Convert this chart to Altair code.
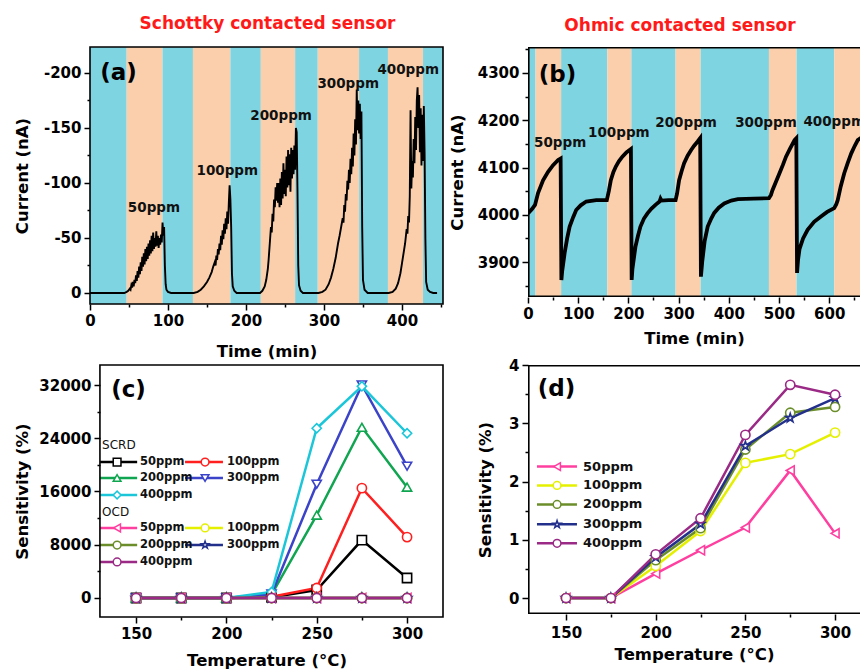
import altair as alt
import pandas as pd

FONT = "DejaVu Sans"

# ---------------- panel (a): Schottky contacted sensor ----------------
a_time = [0, 44, 47, 49, 51, 52, 53, 54, 55, 56, 57, 58, 59, 60, 61, 62, 63, 64, 65, 66, 67, 68, 69, 70,
          71, 72, 73, 74, 75, 76, 77, 78, 79, 80, 81, 82, 83, 84, 85, 86, 87, 88, 89, 90, 91, 92, 93, 94,
          95, 96, 97, 98, 100, 104,
          133, 138, 142, 146, 150, 153, 156, 158, 160, 161, 162, 163, 164, 165, 166, 167, 168, 169, 170,
          171, 172, 173, 174, 175, 176, 177, 178, 179, 180, 181, 182, 183, 185, 188,
          218, 221, 224, 226, 228, 229, 230, 231, 232, 233, 234, 235, 236, 237, 238, 239, 240, 241, 242,
          243, 244, 245, 246, 247, 248, 249, 250, 251, 252, 253, 254, 255, 256, 257, 258, 259, 260, 261,
          262, 263, 264, 265, 266, 267, 268, 270, 273,
          293, 298, 302, 306, 309, 312, 315, 318, 320, 322, 324, 325, 326, 327, 328, 329, 330, 331, 332,
          333, 334, 335, 336, 337, 338, 339, 340, 341, 342, 343, 344, 345, 346, 347, 348, 349, 350, 352, 356,
          383, 388, 392, 395, 398, 400, 402, 404, 406, 407, 408, 409, 410, 411, 412, 413, 414, 415, 416,
          417, 418, 419, 420, 421, 422, 423, 424, 425, 426, 427, 428, 429, 430, 431, 433, 436, 440, 445]
a_current = [0, 0, -1, -2, -4, -3, -7, -5, -10, -6, -12, -9, -16, -11, -20, -14, -24, -17, -28, -20, -33, -24, -36, -26,
             -40, -29, -42, -31, -45, -34, -48, -36, -52, -38, -55, -40, -50, -42, -56, -43, -52, -41, -50, -44, -53, -46, -64, -52,
             -60, -25, -8, -3, -1, 0,
             0, -1, -3, -6, -10, -14, -19, -24, -28, -25, -34, -30, -40, -35, -45, -39, -52, -44, -57,
             -49, -63, -54, -68, -58, -74, -63, -82, -98, -85, -60, -18, -6, -2, 0,
             0, -2, -6, -12, -22, -30, -40, -50, -60, -55, -72, -65, -85, -78, -96, -84, -100, -82, -100,
             -78, -104, -80, -110, -86, -118, -90, -112, -88, -124, -96, -130, -98, -126, -92, -132, -104, -130, -108,
             -134, -112, -150, -146, -95, -25, -7, -2, 0,
             0, -1, -3, -8, -14, -22, -32, -45, -52, -60, -68, -64, -80, -74, -90, -84, -102, -94, -112,
             -100, -122, -108, -132, -115, -145, -125, -158, -135, -185, -148, -175, -145, -172, -140, -165, -60, -12, -3, 0,
             0, -1, -4, -9, -18, -27, -36, -45, -58, -54, -70, -64, -88, -166, -95, -120, -105, -140, -118,
             -160, -130, -175, -187, -150, -180, -128, -168, -116, -162, -120, -170, -128, -50, -10, -3, -1, 0, 0]
a_band_start = [0, 47, 93, 132, 180, 219, 263, 292, 345, 382, 427]
a_band_end = [47, 93, 132, 180, 219, 263, 292, 345, 382, 427, 452.6]
a_band_gas = [0, 1, 0, 1, 0, 1, 0, 1, 0, 1, 0]
a_conc_text = ["50ppm", "100ppm", "200ppm", "300ppm", "400ppm"]
a_conc_time = [82, 176, 245, 331, 408]
a_conc_current = [-77, -111, -161, -190, -203]
a_title = ["Schottky contacted sensor"]
a_title_time = [227.6]
a_title_current = [-240]

# ---------------- panel (b): Ohmic contacted sensor ----------------
b_time = [0, 8, 14, 20, 30, 40, 50, 60, 65, 66.5, 68, 73, 78, 83, 90, 96, 105, 116, 136, 157,
          161, 165, 170, 175, 181, 188, 196, 205, 206.5, 208, 214, 219, 224, 231, 238, 246, 254, 262, 264, 266, 280, 294,
          297, 301, 306, 311, 318, 325, 331, 338, 343, 344.5, 347, 352, 358, 365, 371, 380, 391, 405, 418, 450, 480,
          484, 487, 494, 501, 508, 514, 522, 531, 534.5, 536, 538, 541, 548, 557, 570, 583, 596, 610,
          614, 617, 623, 630, 637, 644, 651, 657, 666]
b_current = [4003, 4012, 4021, 4046, 4073, 4091, 4105, 4116, 4119, 3862, 3880, 3919, 3950, 3975, 3995, 4010, 4020, 4028, 4031, 4031,
             4050, 4073, 4090, 4102, 4113, 4123, 4132, 4139, 3862, 3885, 3932, 3955, 3975, 3992, 4003, 4013, 4021, 4028, 4034, 4030, 4031, 4031,
             4045, 4073, 4092, 4109, 4125, 4137, 4146, 4155, 4162, 3869, 3900, 3945, 3975, 3992, 4004, 4015, 4024, 4030, 4033, 4034, 4035,
             4042, 4052, 4070, 4088, 4106, 4123, 4140, 4158, 4162, 3877, 3905, 3928, 3950, 3968, 3985, 3996, 4006, 4014,
             4022, 4031, 4060, 4088, 4110, 4130, 4146, 4158, 4165]
b_band_start = [0, 15, 66, 158, 206, 294, 344, 480, 535, 610]
b_band_end = [15, 66, 158, 206, 294, 344, 480, 535, 610, 661.4]
b_band_gas = [0, 1, 0, 1, 0, 1, 0, 1, 0, 1]
b_conc_text = ["50ppm", "100ppm", "200ppm", "300ppm", "400ppm"]
b_conc_time = [64, 181, 315, 474, 610]
b_conc_current = [4152, 4173, 4194, 4194, 4196]
b_title = ["Ohmic contacted sensor"]
b_title_time = [302.8]
b_title_current = [4389]

# ---------------- panels (c), (d): sensitivity vs temperature ----------------
temps = [150, 175, 200, 225, 250, 275, 300]
conc = ["50ppm", "100ppm", "200ppm", "300ppm", "400ppm"]
scrd_50 = [0, 0, 0, 100, 1200, 8700, 3000]
scrd_100 = [0, 0, 0, 200, 1500, 16500, 9150]
scrd_200 = [0, 0, 0, 500, 12450, 25650, 16650]
scrd_300 = [0, 0, 0, 600, 17100, 32000, 19800]
scrd_400 = [0, 0, 0, 900, 25500, 31800, 24750]
ocd_50 = [0, 0, 0.42, 0.82, 1.21, 2.19, 1.11]
ocd_100 = [0, 0, 0.55, 1.15, 2.32, 2.47, 2.84]
ocd_200 = [0, 0, 0.65, 1.20, 2.55, 3.18, 3.28]
ocd_300 = [0, 0, 0.70, 1.27, 2.61, 3.09, 3.43]
ocd_400 = [0, 0, 0.75, 1.37, 2.80, 3.66, 3.49]
scrd = [scrd_50, scrd_100, scrd_200, scrd_300, scrd_400]
ocd = [ocd_50, ocd_100, ocd_200, ocd_300, ocd_400]

# ---------------- styles ----------------
BAND_COLORS = {0: "#7fd4e2", 1: "#fbcfab"}
STAR = ("M0,-1L0.2245,-0.309L0.951,-0.309L0.363,0.118L0.588,0.809L0,0.382"
        "L-0.588,0.809L-0.363,0.118L-0.951,-0.309L-0.2245,-0.309Z")
SCRD_COLORS = ["#000000", "#ff1f1f", "#10a550", "#3b43c8", "#1cc6d9"]
SCRD_SHAPES = ["square", "circle", "triangle-up", "triangle-down", "diamond"]
OCD_COLORS = ["#ff3fa0", "#e4f000", "#6b8e2b", "#22308c", "#9a2a85"]
OCD_SHAPES = ["triangle-left", "circle", "circle", STAR, "circle"]
TITLE_RED = "#ff1a1a"

# legend layout (in data units of the panels)
c_leg_col_x = [(130.1, 150.6, 139.5, 152.2), (177.1, 198.1, 188.2, 200.4)]
c_leg_scrd_rows = [20430, 18030, 15475]
c_leg_ocd_rows = [10520, 7960, 5410]
c_leg_headers = ["SCRD", "OCD"]
c_leg_header_y = [22990, 12920]
d_leg_x = (133.8, 156.1, 145.0, 159.5)
d_leg_rows = [2.256, 1.932, 1.607, 1.265, 0.94]

panel_tags = ["(a)", "(b)", "(c)", "(d)"]
tag_x = [36.5, 58.8, 145.8, 144.7]
tag_y = [-200, 4296, 31250, 3.59]


def minor_ticks(step):
    return {"condition": {"test": f"abs(datum.value % {step}) < 1e-6", "value": 6}, "value": 3}


def lbl(step):
    return f"abs(datum.value % {step}) < 1e-6 ? datum.label : ''"


# ================= panel (a) =================
xa_scale = alt.Scale(domain=[0, 452.6], nice=False, zero=False)
ya_scale = alt.Scale(domain=[-223.6, 10], reverse=True, nice=False, zero=False)
xa_axis = alt.Axis(title="Time (min)", values=list(range(0, 451, 50)), labelExpr=lbl(100),
                   tickSize=minor_ticks(100), titlePadding=15, format="d")
ya_axis = alt.Axis(title="Current (nA)", values=list(range(0, -201, -25)),
                   labelExpr="abs(datum.value % 50) < 1e-6 ? (datum.value < 0 ? '-' + abs(datum.value) : '0') : ''",
                   tickSize=minor_ticks(50), titlePadding=13)


def XA(f):
    return alt.X(f, type="quantitative", scale=xa_scale, axis=xa_axis)


def YA(f):
    return alt.Y(f, type="quantitative", scale=ya_scale, axis=ya_axis)


df_a = pd.DataFrame({"t": a_time, "i": a_current})
df_ab = pd.DataFrame({"t": a_band_start, "t2": a_band_end,
                      "fill": [BAND_COLORS[g] for g in a_band_gas]})
df_al = pd.DataFrame({"t": a_conc_time, "i": a_conc_current, "label": a_conc_text})
df_at = pd.DataFrame({"t": [tag_x[0]], "i": [tag_y[0]], "label": [panel_tags[0]]})
df_aT = pd.DataFrame({"t": a_title_time, "i": a_title_current, "label": a_title})
df_af = pd.DataFrame({"t": [0], "t2": [452.6]})

a_bands = alt.Chart(df_ab).mark_rect().encode(x=XA("t"), x2="t2", color=alt.Color("fill:N", scale=None))
a_line = alt.Chart(df_a).mark_line(color="black", strokeWidth=1.9).encode(x=XA("t"), y=YA("i"))
a_lab = alt.Chart(df_al).mark_text(font=FONT, fontWeight="bold", fontSize=13.5, color="#111111").encode(
    x=XA("t"), y=YA("i"), text="label:N")
a_tag = alt.Chart(df_at).mark_text(font=FONT, fontWeight="bold", fontSize=23, color="black").encode(
    x=XA("t"), y=YA("i"), text="label:N")
a_ttl = alt.Chart(df_aT).mark_text(font=FONT, fontWeight="bold", fontSize=17, color=TITLE_RED,
                                   baseline="alphabetic").encode(x=XA("t"), y=YA("i"), text="label:N")
a_frame = alt.Chart(df_af).mark_rect(fill="transparent", stroke="black", strokeWidth=1.6).encode(
    x=XA("t"), x2="t2")
panel_a = alt.layer(a_bands, a_line, a_lab, a_tag, a_ttl, a_frame).properties(width=353, height=257)

# ================= panel (b) =================
xb_scale = alt.Scale(domain=[0, 661.4], nice=False, zero=False)
yb_scale = alt.Scale(domain=[3826, 4355], nice=False, zero=False)
xb_axis = alt.Axis(title="Time (min)", values=list(range(0, 651, 50)), labelExpr=lbl(100),
                   tickSize=minor_ticks(100), titlePadding=9, format="d")
yb_axis = alt.Axis(title="Current (nA)", values=list(range(3850, 4351, 50)), labelExpr=lbl(100),
                   tickSize=minor_ticks(100), titlePadding=12, format="d")


def XB(f):
    return alt.X(f, type="quantitative", scale=xb_scale, axis=xb_axis)


def YB(f):
    return alt.Y(f, type="quantitative", scale=yb_scale, axis=yb_axis)


df_b = pd.DataFrame({"t": b_time, "i": b_current})
df_bb = pd.DataFrame({"t": b_band_start, "t2": b_band_end,
                      "fill": [BAND_COLORS[g] for g in b_band_gas]})
df_bl = pd.DataFrame({"t": b_conc_time, "i": b_conc_current, "label": b_conc_text})
df_bt = pd.DataFrame({"t": [tag_x[1]], "i": [tag_y[1]], "label": [panel_tags[1]]})
df_bT = pd.DataFrame({"t": b_title_time, "i": b_title_current, "label": b_title})
df_bf = pd.DataFrame({"t": [0], "t2": [720]})

b_bands = alt.Chart(df_bb).mark_rect().encode(x=XB("t"), x2="t2", color=alt.Color("fill:N", scale=None))
b_line = alt.Chart(df_b).mark_line(color="black", strokeWidth=3.8, clip=True).encode(x=XB("t"), y=YB("i"))
b_lab = alt.Chart(df_bl).mark_text(font=FONT, fontWeight="bold", fontSize=13.5, color="#111111", clip=True).encode(
    x=XB("t"), y=YB("i"), text="label:N")
b_tag = alt.Chart(df_bt).mark_text(font=FONT, fontWeight="bold", fontSize=23, color="black").encode(
    x=XB("t"), y=YB("i"), text="label:N")
b_ttl = alt.Chart(df_bT).mark_text(font=FONT, fontWeight="bold", fontSize=17, color=TITLE_RED,
                                   baseline="alphabetic").encode(x=XB("t"), y=YB("i"), text="label:N")
b_frame = alt.Chart(df_bf).mark_rect(fill="transparent", stroke="black", strokeWidth=3.2, clip=True).encode(
    x=XB("t"), x2="t2")
panel_b = alt.layer(b_bands, b_line, b_lab, b_tag, b_ttl, b_frame).properties(width=332, height=250)


# ================= helpers for (c), (d) =================
def series_frame(values_list, colors, shapes, prefix):
    rows = []
    for k, vals in enumerate(values_list):
        for T, v in zip(temps, vals):
            rows.append({"T": T, "s": v, "series": f"{prefix}{k}", "color": colors[k], "shape": shapes[k]})
    return pd.DataFrame(rows)


def series_layers(df, X, Y):
    line = alt.Chart(df).mark_line(strokeWidth=2.5).encode(
        x=X("T"), y=Y("s"), color=alt.Color("color:N", scale=None), detail="series:N", order="T:Q")
    pts = alt.Chart(df).mark_point(filled=True, opacity=1, size=85, strokeWidth=1.6).encode(
        x=X("T"), y=Y("s"), fill=alt.value("white"),
        stroke=alt.Stroke("color:N", scale=None), shape=alt.Shape("shape:N", scale=None))
    return [line, pts]


def legend_layers(df, X, Y, size):
    seg = alt.Chart(df).mark_rule(strokeWidth=2.5).encode(
        x=X("T"), x2="T2", y=Y("s"), color=alt.Color("color:N", scale=None))
    pts = alt.Chart(df).mark_point(filled=True, opacity=1, size=60, strokeWidth=1.5).encode(
        x=X("Tm"), y=Y("s"), fill=alt.value("white"),
        stroke=alt.Stroke("color:N", scale=None), shape=alt.Shape("shape:N", scale=None))
    txt = alt.Chart(df).mark_text(font=FONT, fontWeight="bold", fontSize=size, color="#111111",
                                  align="left", baseline="middle").encode(
        x=X("Tt"), y=Y("s"), text="label:N")
    return [seg, pts, txt]


# ================= panel (c) =================
xc_scale = alt.Scale(domain=[124.5, 319.9], nice=False, zero=False)
yc_scale = alt.Scale(domain=[-2855, 35005], nice=False, zero=False)
xc_axis = alt.Axis(title="Temperature (°C)", values=[150, 175, 200, 225, 250, 275, 300], labelExpr=lbl(50),
                   tickSize=minor_ticks(50), titlePadding=11, format="d")
yc_axis = alt.Axis(title="Sensitivity (%)", values=list(range(0, 32001, 4000)), labelExpr=lbl(8000),
                   tickSize=minor_ticks(8000), titlePadding=8, format="d", offset=-10)


def XC(f):
    return alt.X(f, type="quantitative", scale=xc_scale, axis=xc_axis)


def YC(f):
    return alt.Y(f, type="quantitative", scale=yc_scale, axis=yc_axis)


df_cs = series_frame(scrd, SCRD_COLORS, SCRD_SHAPES, "s")
df_co = series_frame(ocd, OCD_COLORS, OCD_SHAPES, "o")

leg_rows = []
grid = [(0, 0), (1, 0), (0, 1), (1, 1), (0, 2)]
for rows_y, colors, shapes in [(c_leg_scrd_rows, SCRD_COLORS, SCRD_SHAPES), (c_leg_ocd_rows, OCD_COLORS, OCD_SHAPES)]:
    for k, (col, r) in enumerate(grid):
        x1, x2, xm, xt = c_leg_col_x[col]
        leg_rows.append({"T": x1, "T2": x2, "Tm": xm, "Tt": xt, "s": rows_y[r],
                         "label": conc[k], "color": colors[k], "shape": shapes[k]})
df_cleg = pd.DataFrame(leg_rows)
df_chead = pd.DataFrame({"T": [131.2, 131.2], "s": c_leg_header_y, "label": c_leg_headers})
df_ct = pd.DataFrame({"T": [tag_x[2]], "s": [tag_y[2]], "label": [panel_tags[2]]})
df_cf = pd.DataFrame({"T": [130.0], "T2": [319.9]})

c_head = alt.Chart(df_chead).mark_text(font=FONT, fontSize=12, color="#111111", align="left",
                                       baseline="middle").encode(x=XC("T"), y=YC("s"), text="label:N")
c_tag = alt.Chart(df_ct).mark_text(font=FONT, fontWeight="bold", fontSize=23, color="black").encode(
    x=XC("T"), y=YC("s"), text="label:N")
c_frame = alt.Chart(df_cf).mark_rect(fill="transparent", stroke="black", strokeWidth=1.6).encode(
    x=XC("T"), x2="T2")
panel_c = alt.layer(*series_layers(df_cs, XC, YC), *series_layers(df_co, XC, YC),
                    *legend_layers(df_cleg, XC, YC, 11.5), c_head, c_tag, c_frame).properties(
    width=353, height=252)

# ================= panel (d) =================
xd_scale = alt.Scale(domain=[128.8, 313.9], nice=False, zero=False)
yd_scale = alt.Scale(domain=[-0.274, 4.0], nice=False, zero=False)
xd_axis = alt.Axis(title="Temperature (°C)", values=[150, 175, 200, 225, 250, 275, 300], labelExpr=lbl(50),
                   tickSize=minor_ticks(50), titlePadding=6, labelPadding=5, format="d")
yd_axis = alt.Axis(title="Sensitivity (%)", values=[0, 0.5, 1, 1.5, 2, 2.5, 3, 3.5, 4], labelExpr=lbl(1),
                   tickSize=minor_ticks(1), titlePadding=15, format=".0f")


def XD(f):
    return alt.X(f, type="quantitative", scale=xd_scale, axis=xd_axis)


def YD(f):
    return alt.Y(f, type="quantitative", scale=yd_scale, axis=yd_axis)


df_d = series_frame(ocd, OCD_COLORS, OCD_SHAPES, "d")
df_dleg = pd.DataFrame([{"T": d_leg_x[0], "T2": d_leg_x[1], "Tm": d_leg_x[2], "Tt": d_leg_x[3],
                         "s": d_leg_rows[k], "label": conc[k], "color": OCD_COLORS[k], "shape": OCD_SHAPES[k]}
                        for k in range(5)])
df_dt = pd.DataFrame({"T": [tag_x[3]], "s": [tag_y[3]], "label": [panel_tags[3]]})
df_df = pd.DataFrame({"T": [128.8], "T2": [360.0]})

d_tag = alt.Chart(df_dt).mark_text(font=FONT, fontWeight="bold", fontSize=23, color="black").encode(
    x=XD("T"), y=YD("s"), text="label:N")
d_frame = alt.Chart(df_df).mark_rect(fill="transparent", stroke="black", strokeWidth=3.2, clip=True).encode(
    x=XD("T"), x2="T2")
panel_d = alt.layer(*series_layers(df_d, XD, YD), *legend_layers(df_dleg, XD, YD, 13),
                    d_tag, d_frame).properties(width=332, height=249)

# ================= assemble =================
chart = alt.concat(panel_a, panel_b, panel_c, panel_d, columns=2,
                   spacing={"row": 61, "column": 85}, bounds="flush", align="each").properties(
    padding={"left": 14, "top": 14, "right": 0, "bottom": 0},
    background="white"
).configure_view(stroke=None).configure_axis(
    labelFont=FONT, labelFontWeight="bold", labelFontSize=15, labelColor="black",
    titleFont=FONT, titleFontWeight="bold", titleFontSize=16.5, titleColor="black",
    tickColor="black", tickWidth=1.5, domain=False, grid=False, labelPadding=3,
    labelFlush=False, labelOverlap=False
)

chart.save("out.html", embed_options={"renderer": "svg", "actions": False})
